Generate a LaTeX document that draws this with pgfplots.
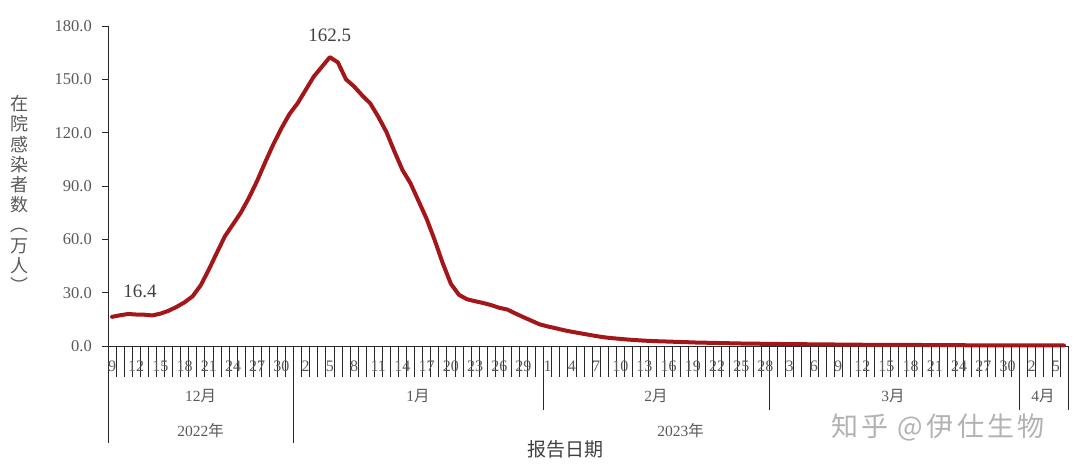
\documentclass[border=0pt]{standalone}
\usepackage{fontspec}
\usepackage{pgfplots}
\pgfplotsset{compat=1.18}
\setmainfont{Liberation Serif}
\newfontfamily\cjk{Noto Sans CJK SC}
\newfontfamily\cjkwm[LetterSpace=12]{Noto Sans CJK SC}
\definecolor{linered}{RGB}{163,22,26}
\definecolor{axcol}{RGB}{40,40,40}
\definecolor{tickcol}{RGB}{89,89,89}
\definecolor{labcol}{RGB}{64,64,64}
\begin{document}
\begin{tikzpicture}[x=1pt,y=1pt]
\path[use as bounding box] (-108,-123) rectangle (972,346);
\begin{axis}[
  at={(0,0)}, anchor=south west,
  scale only axis, width=960pt, height=320pt,
  xmin=0, xmax=119, ymin=0, ymax=180,
  axis x line*=bottom, axis y line*=left,
  axis line style={axcol, line width=0.8pt},
  xtick=\empty,
  ytick={0,30,60,90,120,150,180},
  tick align=outside, major tick length=6pt,
  y tick style={axcol, line width=0.8pt},
  /pgf/number format/assume math mode=true,
  yticklabel={\pgfmathprintnumber[fixed,fixed zerofill,precision=1]{\tick}},
  yticklabel style={font=\fontsize{16.5}{16.5}\selectfont, text=tickcol, anchor=east, inner sep=0pt, xshift=-10pt},
  clip=false,
]
\addplot[linered, line width=4pt, line join=round, line cap=round] coordinates {
(0.5,16.4) (1.5,17.3) (2.5,18.0) (3.5,17.7) (4.5,17.6) (5.5,17.2) (6.5,18.2) (7.5,19.8) (8.5,22.0) (9.5,24.6)
(10.5,28.0) (11.5,34.2) (12.5,43.0) (13.5,52.5) (14.5,61.8) (15.5,68.5) (16.5,75.3) (17.5,83.6) (18.5,93.0) (19.5,103.5)
(20.5,113.5) (21.5,122.5) (22.5,130.5) (23.5,136.5) (24.5,144.0) (25.5,151.5) (26.5,157.0) (27.5,162.5) (28.5,159.5) (29.5,150.0)
(30.5,146.0) (31.5,141.0) (32.5,136.5) (33.5,129.0) (34.5,120.5) (35.5,109.5) (36.5,99.0) (37.5,91.5) (38.5,81.5) (39.5,71.5)
(40.5,59.5) (41.5,46.5) (42.5,35.0) (43.5,28.8) (44.5,26.3) (45.5,25.2) (46.5,24.2) (47.5,23.0) (48.5,21.5) (49.5,20.5)
(50.5,18.3) (51.5,16.2) (52.5,14.2) (53.5,12.2) (54.5,11.0) (55.5,10.0) (56.5,8.9) (57.5,8.0) (58.5,7.2) (59.5,6.4)
(60.5,5.6) (61.5,4.9) (62.5,4.4) (63.5,4.0) (64.5,3.6) (65.5,3.3) (66.5,3.0) (67.5,2.8) (68.5,2.6) (69.5,2.5)
(70.5,2.3) (71.5,2.2) (72.5,2.0) (73.5,1.9) (74.5,1.8) (75.5,1.7) (76.5,1.6) (77.5,1.5) (78.5,1.4) (79.5,1.3)
(80.5,1.3) (81.5,1.2) (82.5,1.2) (83.5,1.1) (84.5,1.1) (85.5,1.0) (86.5,1.0) (87.5,0.9) (88.5,0.9) (89.5,0.9)
(90.5,0.8) (91.5,0.8) (92.5,0.8) (93.5,0.7) (94.5,0.7) (95.5,0.7) (96.5,0.7) (97.5,0.6) (98.5,0.6) (99.5,0.6)
(100.5,0.6) (101.5,0.5) (102.5,0.5) (103.5,0.5) (104.5,0.5) (105.5,0.5) (106.5,0.4) (107.5,0.4) (108.5,0.4) (109.5,0.4)
(110.5,0.4) (111.5,0.4) (112.5,0.3) (113.5,0.3) (114.5,0.3) (115.5,0.3) (116.5,0.3) (117.5,0.3) (118.5,0.3)
};
\node[font=\fontsize{19}{19}\selectfont, text=labcol] at (axis cs:0.5,16.4) [xshift=28pt, yshift=25pt] {16.4};
\node[font=\fontsize{19}{19}\selectfont, text=labcol] at (axis cs:27.5,162.5) [yshift=22pt] {162.5};
\end{axis}
% day separators
\foreach \i in {0,...,119} \draw[axcol, line width=0.7pt] ({\i*8.067227},0) -- ({\i*8.067227},-31);
% month separators
\foreach \i in {23,54,82,113,119} \draw[axcol, line width=0.7pt] ({\i*8.067227},0) -- ({\i*8.067227},-64);
% year separators
\foreach \i in {0,23} \draw[axcol, line width=0.7pt] ({\i*8.067227},0) -- ({\i*8.067227},-97);
% day labels
\foreach \d/\l in {0/9,3/12,6/15,9/18,12/21,15/24,18/27,21/30,24/2,27/5,30/8,33/11,36/14,39/17,42/20,45/23,48/26,51/29,54/1,57/4,60/7,63/10,66/13,69/16,72/19,75/22,78/25,81/28,84/3,87/6,90/9,93/12,96/15,99/18,102/21,105/24,108/27,111/30,114/2,117/5}
  \node[font=\fontsize{16}{16}\selectfont, text=tickcol, inner sep=0pt] at ({(\d+0.5)*8.067227},-20) {\l};
% month labels
\foreach \x/\m in {200.5/12,418/1,656/2,893/3,1043/4}
  \node[font=\fontsize{15.5}{15.5}\selectfont, text=tickcol, inner sep=0pt] at (\x-108,-50) {\m{\cjk 月}};
% year labels
\node[font=\fontsize{15.5}{15.5}\selectfont, text=tickcol, inner sep=0pt] at (200.5-108,-85) {2022{\cjk 年}};
\node[font=\fontsize{15.5}{15.5}\selectfont, text=tickcol, inner sep=0pt] at (680.5-108,-85) {2023{\cjk 年}};
% axis title x
\node[font=\cjk\fontsize{19}{19}\selectfont, text=labcol, inner sep=0pt] at (457,-103) {报告日期};
% y label stacked
\node[font=\cjk\fontsize{18}{20.2}\selectfont, text=tickcol, align=center, inner sep=0pt] at (-88,152) {在\\院\\感\\染\\者\\数\\︵\\万\\人\\︶};
% watermark
\node[font=\cjkwm\fontsize{27}{27}\selectfont, text=black!30, inner sep=0pt] at (830,-81) {知乎 @伊仕生物};
\end{tikzpicture}
\end{document}
